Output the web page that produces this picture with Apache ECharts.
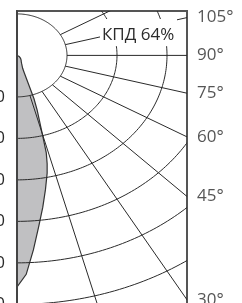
<!DOCTYPE html>
<html>
<head>
<meta charset="utf-8">
<script src="https://cdn.jsdelivr.net/npm/echarts@6/dist/echarts.min.js"></script>
<style>
html, body { margin: 0; padding: 0; background: #fff; }
#chart { width: 242px; height: 303px; }
</style>
</head>
<body>
<div id="chart"></div>
<script>
// кривая силы света (половина), угол от 0° вниз, кд/клм
const curveAngles = [0, 2, 4, 6, 8, 10, 12, 13, 14, 15, 16, 17, 18, 19, 20, 25, 30, 36, 45, 60, 90];
const curveValues = [558, 528, 470, 415, 370, 328, 290, 268, 242, 195, 162, 138, 110, 45, 33, 22, 17, 14, 10, 5, 0];
// сетка
const ringValues = [100, 200, 300, 400, 500, 600];
const rayAngles = [15, 30, 45, 60, 75, 90, 105, 120];
const angleLabelValues = [30, 45, 60, 75, 90, 105];
const angleLabelTexts = ['30°', '45°', '60°', '75°', '90°', '105°'];
const efficiencyText = 'КПД 64%';

const frameRight = 340;
const rad = a => a * Math.PI / 180;
const toXY = (r, a) => [r * Math.sin(rad(a)), r * Math.cos(rad(a))];
const font = '"Open Sans", "DejaVu Sans", sans-serif';

const chart = echarts.init(document.getElementById('chart'));
chart.setOption({
  animation: false,
  grid: {
    left: 17, top: 11, width: 170, height: 300,
    outerBoundsMode: 'none', containLabel: false,
    show: true, borderColor: '#555', borderWidth: 2, backgroundColor: 'transparent'
  },
  xAxis: { type: 'value', min: 0, max: frameRight, show: false },
  yAxis: {
    type: 'value', min: -107, max: 616, inverse: true, z: 10,
    axisLine: { show: true, lineStyle: { color: '#444', width: 2 } },
    axisTick: { show: false },
    splitLine: { show: false },
    axisLabel: {
      customValues: ringValues,
      margin: 12, color: '#2b2b2b', fontSize: 17, fontFamily: font
    }
  },
  graphic: [
    { type: 'rect', z: 100, shape: { x: 100, y: 19, width: 77, height: 27 }, style: { fill: '#fff' } },
    { type: 'text', z: 101, x: 102, y: 35,
      style: { text: efficiencyText, fill: '#2b2b2b', font: '17px ' + font, verticalAlign: 'middle' } }
  ],
  series: [
    {
      // заливка кривой
      type: 'custom', z: 1, clip: true,
      data: [[0, 0]],
      renderItem: (params, api) => {
        const pts = [api.coord([0, 0])];
        curveAngles.forEach((a, i) => pts.push(api.coord(toXY(curveValues[i], a))));
        return {
          type: 'polygon', shape: { points: pts },
          style: { fill: '#c0c0c2', stroke: '#333', lineWidth: 1.2 }
        };
      }
    },
    {
      // окружности
      type: 'custom', z: 3, clip: true,
      data: ringValues.map(v => [0, v]),
      renderItem: (params, api) => {
        const r = ringValues[params.dataIndex];
        const pts = [];
        for (let a = 0; a <= 180; a += 1) pts.push(api.coord(toXY(r, a)));
        return { type: 'polyline', shape: { points: pts }, style: { stroke: '#2a2a2a', lineWidth: 1, fill: null } };
      }
    },
    {
      // лучи
      type: 'custom', z: 3, clip: true,
      data: rayAngles.map(a => [0, a]),
      renderItem: (params, api) => {
        const a = rayAngles[params.dataIndex];
        const p1 = api.coord(toXY(ringValues[0], a));
        const p2 = api.coord(toXY(3000, a));
        return {
          type: 'line',
          shape: { x1: p1[0], y1: p1[1], x2: p2[0], y2: p2[1] },
          style: { stroke: '#2a2a2a', lineWidth: 1 }
        };
      }
    },
    {
      // подписи углов
      type: 'scatter', clip: false, symbolSize: 0, z: 5,
      data: angleLabelValues.map(a => [frameRight, frameRight * Math.cos(rad(a)) / Math.sin(rad(a))]),
      label: {
        show: true, position: 'right', distance: 10,
        color: '#2b2b2b', fontSize: 17, fontFamily: font,
        formatter: p => angleLabelTexts[p.dataIndex]
      }
    }
  ]
});
</script>
</body>
</html>
